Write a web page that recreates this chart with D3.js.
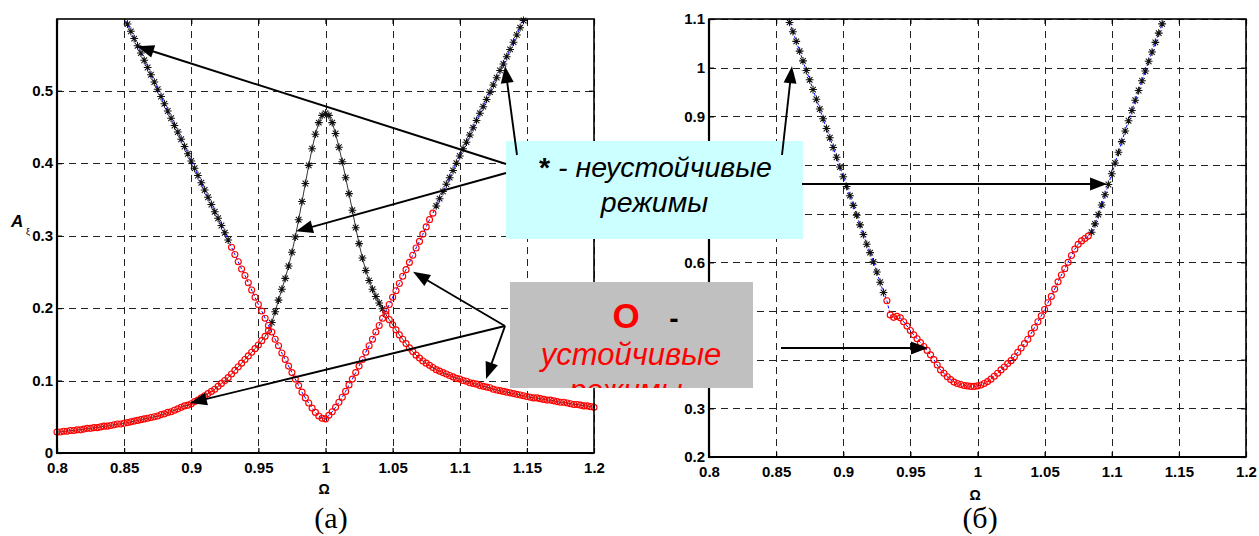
<!DOCTYPE html>
<html>
<head>
<meta charset="utf-8">
<script src="https://cdn.jsdelivr.net/npm/d3@7"></script>
<style>
  body { margin: 0; background: #fff; }
  svg { display: block; }
</style>
</head>
<body>
<svg id="chart" width="1259" height="536"></svg>
<script>
// ---------- data ----------
const omegaStep = 0.0025;

// panel (а): resonance branch (peak at Ω = 1), sampled from Ω = 0.80
const peakOmegaStart = 0.80;
const peakAmp = [
  0.029,0.029,0.030,0.030,0.031,0.031,0.032,0.032,0.033,0.034,
  0.034,0.035,0.035,0.036,0.037,0.037,0.038,0.039,0.040,0.040,
  0.041,0.042,0.043,0.044,0.045,0.046,0.047,0.048,0.049,0.050,
  0.051,0.053,0.054,0.056,0.057,0.059,0.061,0.063,0.065,0.066,
  0.068,0.071,0.073,0.076,0.079,0.082,0.085,0.088,0.092,0.096,
  0.100,0.104,0.109,0.114,0.119,0.124,0.129,0.134,0.139,0.144,
  0.149,0.155,0.161,0.169,0.180,0.195,0.211,0.226,0.241,0.258,
  0.277,0.298,0.322,0.347,0.372,0.397,0.420,0.440,0.456,0.466,
  0.469,0.466,0.456,0.441,0.422,0.402,0.380,0.358,0.335,0.311,
  0.289,0.269,0.252,0.238,0.226,0.216,0.207,0.199,0.191,0.184,
  0.177,0.170,0.163,0.157,0.151,0.145,0.140,0.135,0.131,0.127,
  0.124,0.121,0.118,0.115,0.113,0.111,0.109,0.107,0.105,0.103,
  0.102,0.100,0.099,0.097,0.096,0.095,0.093,0.092,0.091,0.090,
  0.088,0.087,0.086,0.085,0.084,0.083,0.082,0.081,0.080,0.079,
  0.078,0.077,0.076,0.076,0.075,0.074,0.073,0.073,0.072,0.071,
  0.070,0.070,0.069,0.068,0.067,0.067,0.066,0.065,0.065,0.064,
  0.063
];
const peakUnstable = [0.959, 1.043];

// panel (а): anti-resonance branch (notch at Ω = 1), sampled from Ω = 0.85
const notchOmegaStart = 0.85;
const notchAmp = [
  0.602,0.592,0.582,0.572,0.562,0.552,0.542,0.532,0.522,0.512,
  0.502,0.492,0.482,0.472,0.462,0.452,0.443,0.433,0.423,0.413,
  0.403,0.393,0.383,0.373,0.363,0.353,0.343,0.333,0.324,0.314,
  0.304,0.294,0.284,0.274,0.264,0.254,0.245,0.235,0.225,0.215,
  0.205,0.196,0.186,0.176,0.167,0.157,0.148,0.138,0.129,0.120,
  0.111,0.102,0.093,0.084,0.076,0.069,0.062,0.056,0.051,0.048,
  0.047,
  0.052,0.057,0.063,0.070,0.077,0.085,0.094,0.102,0.111,0.120,
  0.129,0.139,0.148,0.157,0.167,0.176,0.186,0.196,0.205,0.215,
  0.224,0.234,0.244,0.253,0.263,0.273,0.283,0.292,0.302,0.312,
  0.322,0.331,0.341,0.351,0.361,0.371,0.380,0.390,0.400,0.410,
  0.420,0.429,0.439,0.449,0.459,0.469,0.478,0.488,0.498,0.508,
  0.518,0.528,0.537,0.547,0.557,0.567,0.577,0.587,0.597,0.606
];
const notchStable = [0.929, 1.081];

// panel (б): single branch, sampled from Ω = 0.8575
const rightOmegaStart = 0.8575;
const rightAmp = [
  1.113,1.093,1.074,1.054,1.034,1.014,0.994,0.975,0.955,0.935,
  0.915,0.895,0.875,0.856,0.836,0.816,0.796,0.776,0.756,0.737,
  0.717,0.697,0.677,0.657,0.637,0.620,0.601,0.580,0.559,0.538,
  0.521,0.492,0.487,0.489,0.486,0.478,0.469,0.460,0.451,0.443,
  0.435,0.427,0.419,0.410,0.400,0.389,0.379,0.372,0.365,0.359,
  0.354,0.351,0.349,0.347,0.346,0.345,0.345,0.346,
  0.348,0.351,0.355,0.360,0.366,0.372,0.379,0.385,0.392,0.398,
  0.406,0.415,0.424,0.433,0.442,0.454,0.466,0.478,0.490,0.503,
  0.517,0.530,0.545,0.560,0.574,0.587,0.600,0.614,0.627,0.637,
  0.644,0.649,0.654,0.662,0.679,0.698,0.718,0.739,0.760,0.782,
  0.804,0.826,0.848,0.870,0.891,0.912,0.933,0.953,0.973,0.993,
  1.013,1.032,1.052,1.071,1.090,1.109
];
const rightStable = [0.9315, 1.083];

// axes ticks (labels that sit under the legend boxes are left blank)
const omegaTicks = [0.8, 0.85, 0.9, 0.95, 1, 1.05, 1.1, 1.15, 1.2];
const omegaTickLabels = ["0.8","0.85","0.9","0.95","1","1.05","1.1","1.15","1.2"];
const leftAmpTicks = [0, 0.1, 0.2, 0.3, 0.4, 0.5];
const leftAmpTickLabels = ["0","0.1","0.2","0.3","0.4","0.5"];
const rightAmpTicks = [0.2, 0.3, 0.4, 0.5, 0.6, 0.7, 0.8, 0.9, 1.0, 1.1];
const rightAmpTickLabels = ["0.2","0.3","","","0.6","","","0.9","1","1.1"];

// annotation arrows: tips in data units of their panel, tails in page pixels
const leftArrows = [
  { from: [506, 164], tip: [0.8596, 0.5614] },
  { from: [506, 173], tip: [0.9780, 0.3060] },
  { from: [517, 155], tip: [1.1337, 0.5340] },
  { from: [505, 326], tip: [1.0652, 0.2500] },
  { from: [505, 326], tip: [1.1196, 0.1020] },
  { from: [505, 326], tip: [0.8990, 0.0690] }
];
const rightArrows = [
  { from: [782, 155], tip: [0.8618, 1.0030] },
  { from: [802, 184], tip: [1.0965, 0.7610] },
  { from: [781, 348], tip: [0.9631, 0.4240] }
];

// ---------- drawing ----------
const svg = d3.select("#chart");
const SANS = "'Liberation Sans', Arial, sans-serif";
const SERIF = "'Liberation Serif', 'Times New Roman', serif";

const panels = [
  { id: "a", x: d3.scaleLinear([0.8, 1.2], [57, 594]), y: d3.scaleLinear([0, 0.599], [453, 19]),
    yTicks: leftAmpTicks, yLabels: leftAmpTickLabels },
  { id: "b", x: d3.scaleLinear([0.8, 1.2], [709, 1246]), y: d3.scaleLinear([0.2, 1.1], [457, 19]),
    yTicks: rightAmpTicks, yLabels: rightAmpTickLabels }
];

const defs = svg.append("defs");

function makeSeries(start, values) {
  return values.map((a, i) => ({ w: +(start + i * omegaStep).toFixed(4), a }));
}
const inRange = (w, r) => w >= r[0] - 1e-9 && w <= r[1] + 1e-9;

const starPath = (h) => {
  const k = h * 0.72;
  return `M${-h},0L${h},0M0,${-h}L0,${h}M${-k},${-k}L${k},${k}M${-k},${k}L${k},${-k}`;
};

function drawFrame(p) {
  const [x0, x1] = p.x.range();
  const [y0, y1] = p.y.range(); // y0 bottom, y1 top
  const g = svg.append("g");
  defs.append("clipPath").attr("id", "clip-" + p.id)
    .append("rect").attr("x", x0).attr("y", y1).attr("width", x1 - x0).attr("height", y0 - y1);

  // dashed grid
  const grid = g.append("g").attr("stroke", "#222").attr("stroke-width", 1)
    .attr("stroke-dasharray", "7,5").attr("fill", "none");
  omegaTicks.forEach(t => {
    const xx = Math.round(p.x(t)) + 0.5;
    grid.append("line").attr("x1", xx).attr("x2", xx).attr("y1", y1).attr("y2", y0);
  });
  p.yTicks.forEach(t => {
    const yy = Math.round(p.y(t)) + 0.5;
    grid.append("line").attr("x1", x0).attr("x2", x1).attr("y1", yy).attr("y2", yy);
  });
}

function drawAxes(p) {
  const [x0, x1] = p.x.range();
  const [y0, y1] = p.y.range();
  const g = svg.append("g");
  const style = sel => {
    sel.attr("font-family", SANS).attr("font-size", 15).attr("font-weight", 700);
    sel.select(".domain").remove();
    sel.selectAll(".tick line").attr("stroke", "#000").attr("stroke-width", 1.2);
    sel.selectAll("text").attr("font-family", SANS).attr("font-weight", 700)
      .attr("font-size", 15).attr("fill", "#000");
  };
  g.append("g").attr("transform", `translate(0,${y0})`)
    .call(d3.axisBottom(p.x).tickValues(omegaTicks).tickFormat((d, i) => omegaTickLabels[i])
      .tickSize(-5).tickPadding(9.5)).call(style);
  g.append("g").attr("transform", `translate(0,${y1})`)
    .call(d3.axisTop(p.x).tickValues(omegaTicks).tickFormat("").tickSize(-5)).call(style);
  g.append("g").attr("transform", `translate(${x0},0)`)
    .call(d3.axisLeft(p.y).tickValues(p.yTicks).tickFormat((d, i) => p.yLabels[i])
      .tickSize(-5).tickPadding(4)).call(style);
  g.append("g").attr("transform", `translate(${x1},0)`)
    .call(d3.axisRight(p.y).tickValues(p.yTicks).tickFormat("").tickSize(-5)).call(style);
  // box
  g.append("rect").attr("x", x0).attr("y", y1).attr("width", x1 - x0).attr("height", y0 - y1)
    .attr("fill", "none").attr("stroke", "#000").attr("stroke-width", 1.6);
  g.append("path").attr("d", `M${x0},${y1}V${y0}H${x1}`)
    .attr("fill", "none").attr("stroke", "#000").attr("stroke-width", 2.2);
}

function drawBranch(p, data, opts) {
  const g = svg.append("g");
  const line = d3.line().x(d => p.x(d.w)).y(d => p.y(d.a));
  g.append("path").datum(data).attr("d", line)
    .attr("clip-path", `url(#clip-${p.id})`)
    .attr("fill", "none").attr("stroke", opts.lineColor)
    .attr("stroke-width", opts.lineWidth)
    .attr("stroke-dasharray", opts.dash || null);
  const [dlo, dhi] = p.y.domain();
  const visible = data.filter(d => d.a >= dlo && d.a <= dhi);
  const stars = visible.filter(d => !opts.isStable(d.w));
  const rings = visible.filter(d => opts.isStable(d.w));
  g.append("g").selectAll("path").data(stars).join("path")
    .attr("transform", d => `translate(${p.x(d.w)},${p.y(d.a)})`)
    .attr("d", starPath(3.9)).attr("stroke", "#111").attr("stroke-width", 1.05).attr("fill", "none");
  g.append("g").selectAll("circle").data(rings).join("circle")
    .attr("cx", d => p.x(d.w)).attr("cy", d => p.y(d.a)).attr("r", 3.0)
    .attr("fill", "none").attr("stroke", "#ff0000").attr("stroke-width", 1.15);
}

panels.forEach(drawFrame);

const [pa, pb] = panels;
drawBranch(pa, makeSeries(peakOmegaStart, peakAmp), {
  lineColor: "#000", lineWidth: 0.8,
  isStable: w => !inRange(w, peakUnstable)
});
drawBranch(pa, makeSeries(notchOmegaStart, notchAmp), {
  lineColor: "#0000ff", lineWidth: 1, dash: "3,2",
  isStable: w => inRange(w, notchStable)
});
drawBranch(pb, makeSeries(rightOmegaStart, rightAmp), {
  lineColor: "#0000ff", lineWidth: 1, dash: "3,2",
  isStable: w => inRange(w, rightStable)
});

panels.forEach(drawAxes);

// axis titles
svg.append("text").attr("x", 324).attr("y", 494).attr("text-anchor", "middle")
  .attr("font-family", SANS).attr("font-weight", "bold").attr("font-size", 14).text("Ω");
svg.append("text").attr("x", 975).attr("y", 500).attr("text-anchor", "middle")
  .attr("font-family", SANS).attr("font-weight", "bold").attr("font-size", 14).text("Ω");
svg.append("text").attr("x", 11).attr("y", 227)
  .attr("font-family", SANS).attr("font-weight", "bold").attr("font-style", "italic")
  .attr("font-size", 17).text("A");
svg.append("text").attr("x", 26).attr("y", 235)
  .attr("font-family", SANS).attr("font-size", 9).text("ξ");

// panel captions
svg.append("text").attr("x", 331).attr("y", 528).attr("text-anchor", "middle")
  .attr("font-family", SERIF).attr("font-size", 30).text("(а)");
svg.append("text").attr("x", 980).attr("y", 528).attr("text-anchor", "middle")
  .attr("font-family", SERIF).attr("font-size", 30).text("(б)");

// legend boxes
const cyanBox = { x: 506, y: 141, w: 297, h: 98 };
const grayBox = { x: 510, y: 282, w: 243, h: 106 };

svg.append("rect").attr("x", cyanBox.x).attr("y", cyanBox.y).attr("width", cyanBox.w)
  .attr("height", cyanBox.h).attr("fill", "#ccffff");
const cx = cyanBox.x + cyanBox.w / 2;
const t1 = svg.append("text").attr("x", cx + 1).attr("y", 177)
  .attr("text-anchor", "middle").attr("font-family", SANS).attr("font-size", 28.5).attr("fill", "#000");
t1.append("tspan").attr("font-weight", "bold").text("*");
t1.append("tspan").attr("font-style", "italic").text(" - неустойчивые");
t1.append("tspan").attr("x", cx).attr("dy", 35).attr("font-style", "italic").text("режимы");

// grey legend: the last line runs past the box edge and is cut off by it
defs.append("clipPath").attr("id", "clip-gray")
  .append("rect").attr("x", grayBox.x).attr("y", grayBox.y).attr("width", grayBox.w).attr("height", grayBox.h);
svg.append("rect").attr("x", grayBox.x).attr("y", grayBox.y).attr("width", grayBox.w)
  .attr("height", grayBox.h).attr("fill", "#c0c0c0");
const gt = svg.append("g").attr("clip-path", "url(#clip-gray)");
const g1 = gt.append("text").attr("y", 328).attr("font-family", SANS);
g1.append("tspan").attr("x", 626).attr("text-anchor", "middle").attr("font-size", 35)
  .attr("font-weight", "bold").attr("fill", "#ff0000").text("О");
g1.append("tspan").attr("x", 674).attr("text-anchor", "middle").attr("font-size", 28)
  .attr("font-weight", "bold").attr("fill", "#000").text("-");
g1.append("tspan").attr("x", 631).attr("y", 365).attr("text-anchor", "middle")
  .attr("font-size", 31).attr("font-style", "italic").attr("fill", "#ff0000").text("устойчивые");
g1.append("tspan").attr("x", 626).attr("y", 399.5).attr("text-anchor", "middle")
  .attr("font-size", 30).attr("font-style", "italic").attr("fill", "#ff0000").text("режимы");

// arrows
const arrowLayer = svg.append("g");
function arrow(x1, y1, x2, y2) {
  const dx = x2 - x1, dy = y2 - y1, len = Math.hypot(dx, dy);
  const ux = dx / len, uy = dy / len, L = 17, W = 6.5;
  const bx = x2 - ux * L, by = y2 - uy * L;
  arrowLayer.append("line").attr("x1", x1).attr("y1", y1).attr("x2", bx + ux * 3).attr("y2", by + uy * 3)
    .attr("stroke", "#000").attr("stroke-width", 1.9);
  arrowLayer.append("path")
    .attr("d", `M${x2},${y2}L${bx - uy * W},${by + ux * W}L${bx + uy * W},${by - ux * W}Z`)
    .attr("fill", "#000");
}
leftArrows.forEach(a => arrow(a.from[0], a.from[1], pa.x(a.tip[0]), pa.y(a.tip[1])));
rightArrows.forEach(a => arrow(a.from[0], a.from[1], pb.x(a.tip[0]), pb.y(a.tip[1])));
</script>
</body>
</html>
